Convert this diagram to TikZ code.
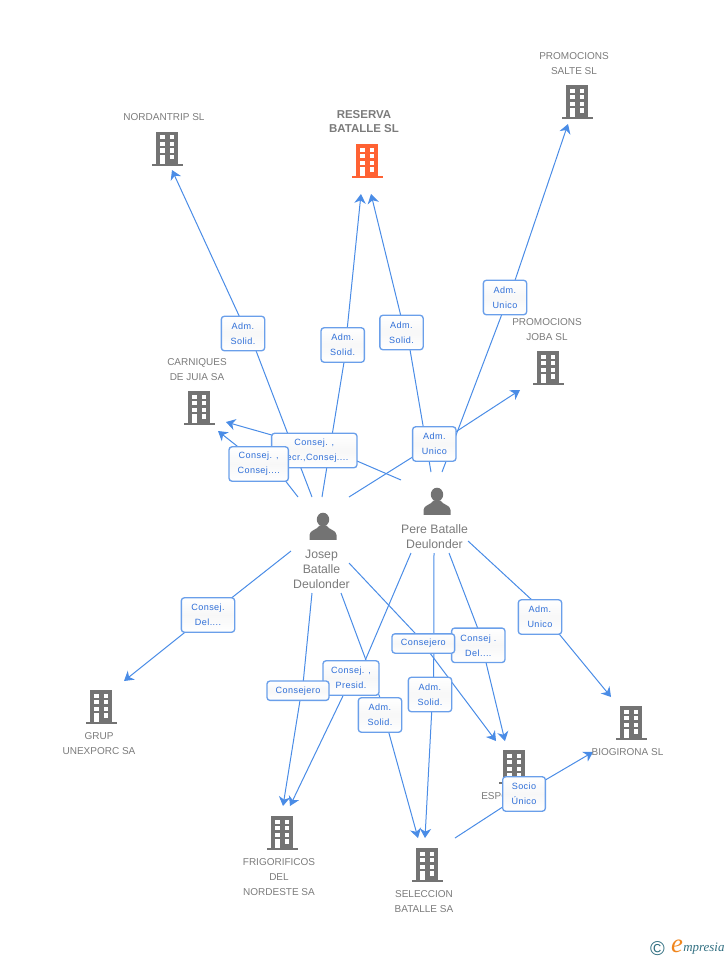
\documentclass[tikz,border=0pt]{standalone}
\usepackage{fontspec}
\setmainfont{Liberation Sans}
\newfontfamily\labfont[LetterSpace=5]{Liberation Sans}
\newfontfamily\logofont{Liberation Serif}
\usetikzlibrary{arrows.meta,calc,backgrounds}
\definecolor{txtgrey}{HTML}{7B7B7B}
\definecolor{icongrey}{HTML}{737373}
\definecolor{iconred}{HTML}{FF6233}
\definecolor{linkblue}{HTML}{4A8CE6}
\definecolor{labblue}{HTML}{2F6FD8}
\definecolor{boxblue}{HTML}{6A9FEA}
\definecolor{logoteal}{HTML}{2F6E80}
\definecolor{logoorange}{HTML}{F0861E}
\tikzset{
  px/.style={x=0.75pt,y=-0.75pt},
  bbox/.style={inner sep=0pt,outer sep=0pt,rectangle},
  ent/.style={text=txtgrey,align=center,inner sep=0pt,font=\fontsize{7.5}{11.25}\selectfont},
  boldent/.style={ent,font=\fontsize{8.6}{10.5}\selectfont\bfseries},
  pers/.style={text=txtgrey,align=center,inner sep=0pt,font=\fontsize{9.2}{11.25}\selectfont},
  lab/.style={draw=boxblue,line width=1pt,rounded corners=2.2pt,top color=white,bottom color=white,middle color=black!3,
    text=labblue,align=center,inner sep=0pt,outer sep=0pt,font=\labfont\fontsize{6.8}{11.25}\selectfont},
  lab2/.style={lab,minimum height=25.8pt},
  link/.style={draw=linkblue,line width=0.75pt,line join=round,-{Stealth[length=7pt,width=8.5pt,inset=2.2pt]}},
}
\newcommand{\mkbox}[5]{\node[bbox,minimum width={(#4-#2)*0.75pt},minimum height={(#5-#3)*0.75pt}] (#1) at ({(#2+#4)/2},{(#3+#5)/2}) {};}
% x centre, y top, colour
\newcommand{\bldg}[3]{%
  \begin{scope}[shift={(#1,#2)}]
    \fill[#3] (-11,0) rectangle (11,32);
    \fill[#3] (-15.5,32) rectangle (15.5,34);
    \foreach \wx in {-7,2.5}{\foreach \wy in {3.5,10,16.7}{\fill[white] (\wx,\wy) rectangle ++(4.7,4.4);}}
    \fill[white] (2.5,23) rectangle ++(4.7,4.7);
    \fill[white] (-7,23) rectangle (-2.3,32);
  \end{scope}}
% x centre, y of head centre
\newcommand{\perso}[2]{%
  \begin{scope}[shift={(#1,#2)}]
    \fill[icongrey] (0,0) ellipse (6.2 and 6.8);
    \fill[icongrey] (-13.5,20.3) -- (-13.5,15.5) .. controls (-13.5,10.5) and (-6,10.5) .. (-3.5,6)
      -- (3.5,6) .. controls (6,10.5) and (13.5,10.5) .. (13.5,15.5) -- (13.5,20.3) -- cycle;
  \end{scope}}
\begin{document}
\begin{tikzpicture}[px]
\useasboundingbox (0,0) rectangle (728,960);
% entity extents
\mkbox{josep}{291}{497}{349}{593}
\mkbox{pere}{401}{472}{468}{553}
\mkbox{nord}{124}{110}{204}{170}
\mkbox{res}{330}{108}{399}{194}
\mkbox{salte}{541}{50}{608}{124}
\mkbox{joba}{512}{316}{581}{390}
\mkbox{carn}{168}{356}{226}{431}
\mkbox{grup}{62}{681}{135}{760}
\mkbox{frig}{244}{806}{315}{900}
\mkbox{sel}{392}{838}{456}{917}
\mkbox{esp}{481}{741}{547}{805}
\mkbox{bio}{593}{697}{664}{758}
% icons
\bldg{167}{131.5}{icongrey}
\bldg{367}{144}{iconred}
\bldg{577}{85}{icongrey}
\bldg{548}{351}{icongrey}
\bldg{199}{391}{icongrey}
\bldg{101}{690}{icongrey}
\bldg{282}{816}{icongrey}
\bldg{427}{848}{icongrey}
\bldg{514}{750}{icongrey}
\bldg{631}{706}{icongrey}
\perso{323}{519.5}
\perso{437}{494.5}
% names
\node[ent] (nordt) at (164,117) {NORDANTRIP SL};
\node[boldent] (rest) at (364,122) {RESERVA\\BATALLE SL};
\node[ent] (saltet) at (574,63.5) {PROMOCIONS\\SALTE SL};
\node[ent] (jobat) at (547,329.5) {PROMOCIONS\\JOBA SL};
\node[ent] (carnt) at (197,369.5) {CARNIQUES\\DE JUIA SA};
\node[ent] (grupt) at (99,743.5) {GRUP\\UNEXPORC SA};
\node[ent] (frigt) at (279,877) {FRIGORIFICOS\\DEL\\NORDESTE SA};
\node[ent] (selt) at (424,901.5) {SELECCION\\BATALLE SA};
\node[ent,anchor=west] (espt) at (481,796) {ESPO};
\node[ent] (biot) at (627.5,752) {BIOGIRONA SL};
\node[pers] (josept) at (321.5,569) {Josep\\Batalle\\Deulonder};
\node[pers] (peret) at (434.5,536.5) {Pere Batalle\\Deulonder};
% labels
\node[lab2,minimum width=32.5pt] (l1) at (243,333.5) {Adm.\\Solid.};
\node[lab2,minimum width=32.5pt] (l2) at (342.7,345) {Adm.\\Solid.};
\node[lab2,minimum width=32.5pt] (l3) at (401.5,332.5) {Adm.\\Solid.};
\node[lab2,minimum width=32.5pt] (l4) at (505,297.5) {Adm.\\Unico};
\node[lab2,minimum width=64pt] (l6) at (314.3,450.5) {Consej. ,\\Secr.,Consej....};
\node[lab2,minimum width=44.5pt] (l7) at (258.7,464) {Consej. ,\\Consej....};
\node[lab2,minimum width=32.5pt] (l5) at (434.3,444) {Adm.\\Unico};
\node[lab2,minimum width=40pt] (l8) at (208,615) {Consej.\\Del....};
\node[lab2,minimum width=42pt] (l10) at (351,678) {Consej. ,\\Presid.};
\node[lab,minimum width=46.5pt,minimum height=14.5pt] (l9) at (298,690.7) {Consejero};
\node[lab2,minimum width=32.5pt] (l11) at (380,715) {Adm.\\Solid.};
\node[lab2,minimum width=32.5pt] (l12) at (430,694.5) {Adm.\\Solid.};
\node[lab2,minimum width=40pt] (l14) at (478.3,645.3) {Consej .\\Del....};
\node[lab,minimum width=47pt,minimum height=14.5pt] (l13) at (423.3,643.5) {Consejero};
\node[lab2,minimum width=32.5pt] (l15) at (540,617) {Adm.\\Unico};
\node[lab2,minimum width=32pt] (l16) at (524,794) {Socio\\Único};
% connectors: each leg enters and leaves its label where the reference does; the step is hidden by the label
\begin{scope}[on background layer]
\draw[link] ($(josep.north)+(-8,0)$) -- ($(l1.south)+(13,0)$) -- ($(l1.north)+(-3.7,0)$) -- ($(nord.south)+(8,0)$);
\draw[link] ($(josep.north)+(2,0)$) -- ($(l2.south)+(1.3,0)$) -- ($(l2.north)+(4.6,0)$) -- ($(res.south)+(-3.5,0)$);
\draw[link] ($(pere.north)+(-3.5,0)$) -- ($(l3.south)+(8.5,0)$) -- ($(l3.north)+(-0.8,0)$) -- ($(res.south)+(6.5,0)$);
\draw[link] ($(pere.north)+(7.5,0)$) -- ($(l4.south)+(-3.3,0)$) -- ($(l4.north)+(10,0)$) -- ($(salte.south)+(-6.5,0)$);
\draw[link] (josep.north east) -- ($(l5.west)+(0,13)$) -- ($(l5.east)+(0,-12.3)$) -- ($(joba.south)+(-26.5,0)$);
\draw[link] ($(pere.north west)+(0,8)$) -- ($(l6.east)+(0,10.5)$) -- ($(l6.west)+(0,-15.5)$) -- ($(carn.east)+(0,28.5)$);
\draw[link] ($(josep.north)+(-22,0)$) -- ($(l7.south)+(27,0)$) -- ($(l7.north)+(-20.7,0)$) -- ($(carn.south)+(21,0)$);
\draw[link] ($(josep.west)+(0,6)$) -- ($(l8.north)+(23.7,0)$) -- ($(l8.south)+(-23,0)$) -- ($(grup.north)+(25.5,0)$);
\draw[link] ($(josep.south)+(-8,0)$) -- ($(l9.north)+(5.3,0)$) -- ($(l9.south)+(2,0)$) -- ($(frig.north)+(3.5,0)$);
\draw[link] ($(pere.south)+(-23.5,0)$) -- ($(l10.north)+(14,0)$) -- ($(l10.south)+(-7.7,0)$) -- ($(frig.north)+(10.5,0)$);
\draw[link] ($(josep.south)+(21,0)$) -- (l11.north) -- ($(l11.south)+(8.7,0)$) -- ($(sel.north)+(-6,0)$);
\draw[link] ($(pere.south)+(-0.5,0)$) -- ($(l12.north)+(3.7,0)$) -- ($(l12.south)+(1.7,0)$) -- ($(sel.north)+(1,0)$);
\draw[link] ($(josep.east)+(0,18)$) -- ($(l13.north)+(-7.6,0)$) -- ($(l13.south)+(6.7,0)$) -- ($(esp.north)+(-18,0)$);
\draw[link] ($(pere.south)+(14.5,0)$) -- ($(l14.north)+(-0.6,0)$) -- ($(l14.south)+(7.7,0)$) -- ($(esp.north)+(-9,0)$);
\draw[link] ($(pere.east)+(0,28.5)$) -- ($(l15.north)+(-8.3,0)$) -- ($(l15.south)+(19.3,0)$) -- ($(bio.north)+(-17.5,0)$);
\draw[link] ($(sel.north)+(31,0)$) -- ($(l16.west)+(0,13)$) -- ($(l16.east)+(0,-14)$) -- ($(bio.west)+(0,24.5)$);
\end{scope}
% logo
\node[text=logoteal,inner sep=0pt,font=\fontsize{15}{15}\selectfont] (logoc) at (657.5,948.5) {©};
\node[text=logoorange,inner sep=0pt,font=\logofont\itshape\fontsize{20}{20}\selectfont] (logoe) at (677,946) {e};
\node[text=logoteal,inner sep=0pt,anchor=west,font=\logofont\itshape\fontsize{9.7}{10}\selectfont] (logot) at (683,949) {mpresia};
\end{tikzpicture}
\end{document}
